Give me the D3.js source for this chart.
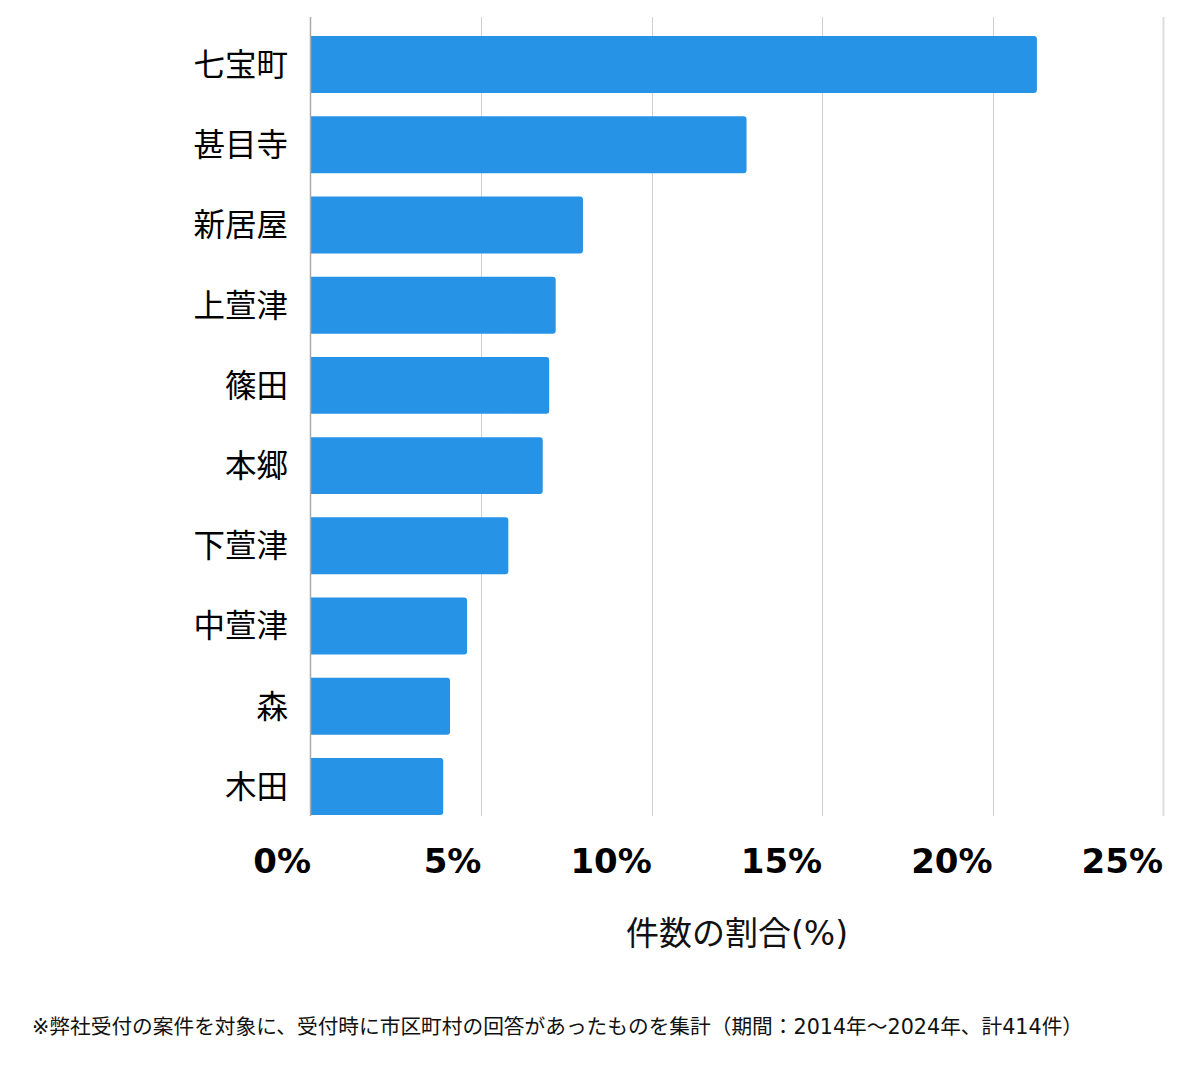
<!DOCTYPE html>
<html><head><meta charset="utf-8">
<script src="https://cdn.jsdelivr.net/npm/d3@7"></script>
<style>body{margin:0;background:#fff}svg{display:block}</style>
</head><body>
<script>
const categories = ["七宝町","甚目寺","新居屋","上萱津","篠田","本郷","下萱津","中萱津","森","木田"];
const values = [21.3, 12.78, 7.98, 7.18, 6.99, 6.8, 5.79, 4.58, 4.08, 3.88];
const ticks = [0, 5, 10, 15, 20, 25];
const tickLabels = ["0%","5%","10%","15%","20%","25%"];
const axisTitle = "件数の割合(%)";
const footnote = "※弊社受付の案件を対象に、受付時に市区町村の回答があったものを集計（期間：2014年～2024年、計414件）";

const W = 1200, H = 1069;
const svg = d3.select("body").append("svg").attr("width", W).attr("height", H);
const x = d3.scaleLinear().domain([0, 25]).range([311, 1163]);
const y = d3.scaleBand().domain(categories).range([36, 815]).paddingInner(0.29).paddingOuter(0);
const plotTop = 17, plotBottom = 816;
const jp = "'Noto Sans CJK JP','Noto Sans',sans-serif";
const mixed = "'DejaVu Sans','Noto Sans CJK JP',sans-serif";

// gridlines
svg.append("g").selectAll("line").data(ticks.slice(1)).join("line")
  .attr("x1", d => Math.round(x(d)) + 0.5).attr("x2", d => Math.round(x(d)) + 0.5)
  .attr("y1", plotTop).attr("y2", plotBottom)
  .attr("stroke", (d,i) => i === ticks.length - 2 ? "#dddddd" : "#d0d0d0")
  .attr("stroke-width", (d,i) => i === ticks.length - 2 ? 2 : 1);

// bars with rounded right corners
const r = 3;
svg.append("g").selectAll("path").data(values).join("path")
  .attr("fill", "#2693e6")
  .attr("d", (d, i) => {
    const x0 = x(0), x1 = x(d), y0 = y(categories[i]), h = y.bandwidth();
    return `M${x0},${y0}H${x1 - r}Q${x1},${y0} ${x1},${y0 + r}V${y0 + h - r}Q${x1},${y0 + h} ${x1 - r},${y0 + h}H${x0}Z`;
  });

// left axis line
svg.append("line").attr("x1", 310.5).attr("x2", 310.5).attr("y1", plotTop).attr("y2", plotBottom)
  .attr("stroke", "#aaaaaa").attr("stroke-width", 1.5);

// category labels
svg.append("g").selectAll("text").data(categories).join("text")
  .attr("x", 288).attr("y", d => y(d) + y.bandwidth() / 2)
  .attr("dy", "0.36em").attr("text-anchor", "end")
  .attr("font-family", jp).attr("font-size", 31.5).attr("fill", "#000")
  .text(d => d);

// tick labels
svg.append("g").selectAll("text").data(ticks).join("text")
  .attr("x", d => x(d)).attr("y", 873)
  .attr("text-anchor", "end")
  .attr("font-family", "'DejaVu Sans',sans-serif").attr("font-weight", "bold")
  .attr("font-size", 34).attr("fill", "#000")
  .text((d, i) => tickLabels[i]);

// axis title
svg.append("text").attr("x", (x(0) + x(25)) / 2).attr("y", 945)
  .attr("text-anchor", "middle").attr("font-family", mixed).attr("font-size", 33).attr("fill", "#111")
  .text(axisTitle);

// footnote
svg.append("text").attr("x", 32).attr("y", 1034)
  .attr("font-family", mixed).attr("font-size", 20.7).attr("fill", "#111")
  .text(footnote);
</script>
</body></html>
